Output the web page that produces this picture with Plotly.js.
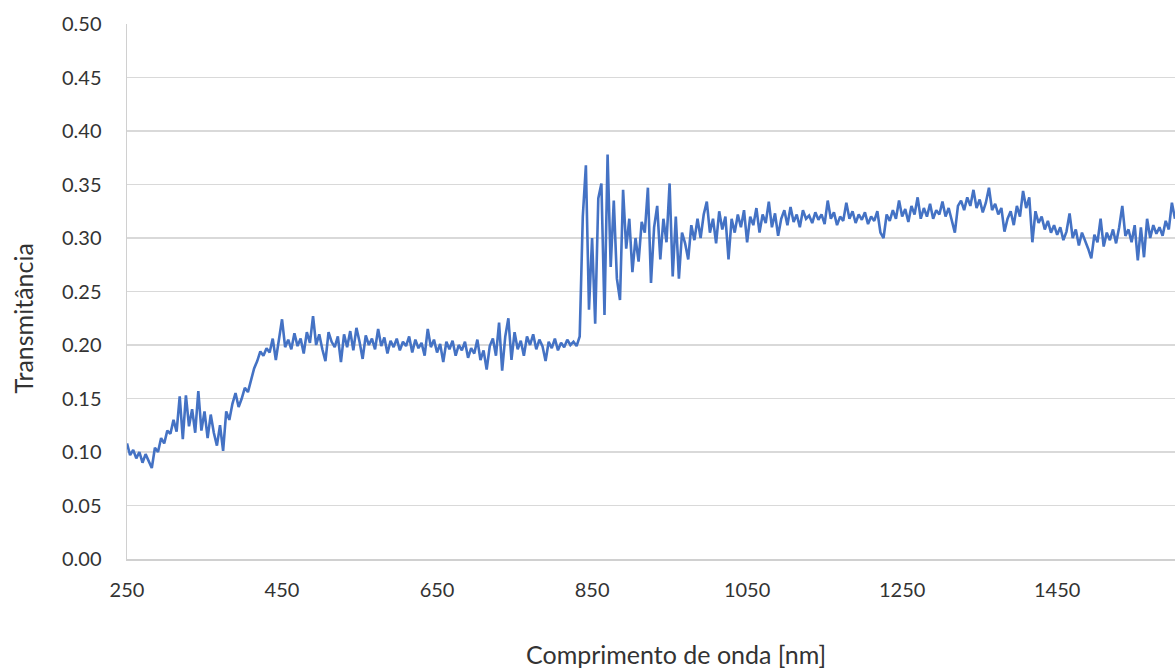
<!DOCTYPE html>
<html>
<head>
<meta charset="utf-8">
<script src="https://cdn.plot.ly/plotly-3.0.1.min.js"></script>
<style>html,body{margin:0;padding:0;background:#fff;}#chart{width:1175px;height:668px;}</style>
</head>
<body>
<div id="chart"></div>
<script>
// Wavelength sampling: start and step in nm
const wavelengthStart = 250;
const wavelengthStep = 4;

// Transmittance values (one per 4 nm, 250 -> 1602 nm)
const transmittance = [
  0.108,0.097,0.102,0.094,0.100,0.090,0.098,0.092,0.085,0.104,
  0.100,0.113,0.108,0.120,0.117,0.130,0.119,0.152,0.112,0.153,
  0.124,0.140,0.118,0.157,0.120,0.138,0.113,0.135,0.118,0.106,
  0.125,0.101,0.138,0.130,0.145,0.155,0.142,0.150,0.160,0.156,
  0.166,0.178,0.185,0.194,0.190,0.197,0.193,0.206,0.186,0.203,
  0.224,0.198,0.205,0.196,0.211,0.199,0.206,0.192,0.212,0.202,
  0.227,0.200,0.210,0.196,0.185,0.212,0.203,0.198,0.208,0.184,
  0.210,0.198,0.213,0.195,0.216,0.203,0.187,0.209,0.200,0.206,
  0.196,0.215,0.199,0.207,0.192,0.204,0.198,0.206,0.195,0.203,
  0.199,0.208,0.193,0.205,0.197,0.202,0.190,0.215,0.198,0.205,
  0.193,0.201,0.184,0.203,0.196,0.204,0.190,0.200,0.195,0.203,
  0.188,0.197,0.192,0.205,0.186,0.195,0.177,0.199,0.206,0.190,
  0.221,0.176,0.208,0.225,0.186,0.212,0.196,0.204,0.190,0.208,
  0.200,0.210,0.196,0.205,0.199,0.185,0.203,0.197,0.206,0.195,
  0.202,0.198,0.205,0.200,0.203,0.199,0.208,
  0.320,0.368,0.233,0.300,0.220,0.337,0.351,0.228,0.378,0.273,
  0.335,0.262,0.242,0.345,0.290,0.318,0.268,0.300,0.278,0.315,
  0.305,0.347,0.258,0.310,0.330,0.280,0.318,0.296,0.351,0.264,
  0.320,0.262,0.305,0.295,0.280,0.312,0.298,0.318,0.300,0.322,
  0.334,0.305,0.318,0.295,0.325,0.308,0.320,0.280,0.318,0.305,
  0.322,0.310,0.326,0.296,0.320,0.312,0.328,0.305,0.322,0.314,
  0.334,0.310,0.323,0.302,0.318,0.326,0.312,0.329,0.315,0.322,
  0.310,0.326,0.318,0.321,0.314,0.324,0.317,0.322,0.313,0.335,
  0.318,0.324,0.312,0.320,0.316,0.333,0.318,0.325,0.314,0.322,
  0.317,0.324,0.313,0.320,0.316,0.325,0.305,0.300,0.322,0.316,
  0.326,0.318,0.335,0.320,0.327,0.315,0.330,0.322,0.338,0.318,
  0.328,0.320,0.332,0.318,0.326,0.322,0.334,0.320,0.328,0.316,
  0.305,0.330,0.335,0.326,0.338,0.330,0.345,0.328,0.336,0.324,
  0.333,0.347,0.326,0.332,0.322,0.328,0.306,0.318,0.325,0.312,
  0.330,0.320,0.344,0.328,0.338,0.296,0.325,0.314,0.320,0.308,
  0.316,0.305,0.312,0.303,0.310,0.298,0.306,0.323,0.300,0.308,
  0.293,0.305,0.298,0.290,0.281,0.303,0.296,0.318,0.292,0.305,
  0.298,0.308,0.295,0.310,0.330,0.302,0.308,0.296,0.312,0.279,
  0.310,0.282,0.318,0.300,0.312,0.304,0.310,0.302,0.316,0.308,
  0.333,0.318
];

const xTitle = 'Comprimento de onda [nm]';
const yTitle = 'Transmitância';

const fontFamily = 'Lato, "Open Sans", sans-serif';
const textColor = '#333333';

const trace = {
  type: 'scatter',
  mode: 'lines',
  x0: wavelengthStart,
  dx: wavelengthStep,
  y: transmittance,
  line: {color: '#4472C4', width: 2.6},
  hoverinfo: 'skip'
};

const layout = {
  width: 1175,
  height: 668,
  margin: {l: 127, r: 0, t: 24, b: 109, pad: 0},
  paper_bgcolor: '#ffffff',
  plot_bgcolor: '#ffffff',
  showlegend: false,
  font: {family: fontFamily, size: 20, color: textColor},
  xaxis: {
    range: [250, 1602],
    tick0: 250,
    dtick: 200,
    tickmode: 'linear',
    showgrid: false,
    zeroline: false,
    showline: true,
    linecolor: '#d0d0d0',
    linewidth: 1.5,
    ticks: '',
    ticklabelstandoff: 12,
    tickfont: {family: fontFamily, size: 20, color: textColor}
  },
  yaxis: {
    range: [0, 0.5],
    tick0: 0,
    dtick: 0.05,
    tickmode: 'linear',
    tickformat: '.2f',
    showgrid: true,
    gridcolor: '#d9d9d9',
    gridwidth: 1.5,
    zeroline: false,
    showline: true,
    linecolor: '#d0d0d0',
    linewidth: 1.5,
    ticks: '',
    ticklabelstandoff: 20,
    tickfont: {family: fontFamily, size: 20, color: textColor}
  },
  annotations: [
    {
      text: xTitle,
      xref: 'paper', yref: 'paper',
      x: 0.524, y: -0.177,
      xanchor: 'center', yanchor: 'middle',
      showarrow: false,
      font: {family: fontFamily, size: 25, color: textColor}
    },
    {
      text: yTitle,
      xref: 'paper', yref: 'paper',
      x: -0.099, y: 0.45,
      xanchor: 'center', yanchor: 'middle',
      textangle: -90,
      showarrow: false,
      font: {family: fontFamily, size: 25, color: textColor}
    }
  ]
};

Plotly.newPlot('chart', [trace], layout, {displayModeBar: false, staticPlot: true});
</script>
</body>
</html>
